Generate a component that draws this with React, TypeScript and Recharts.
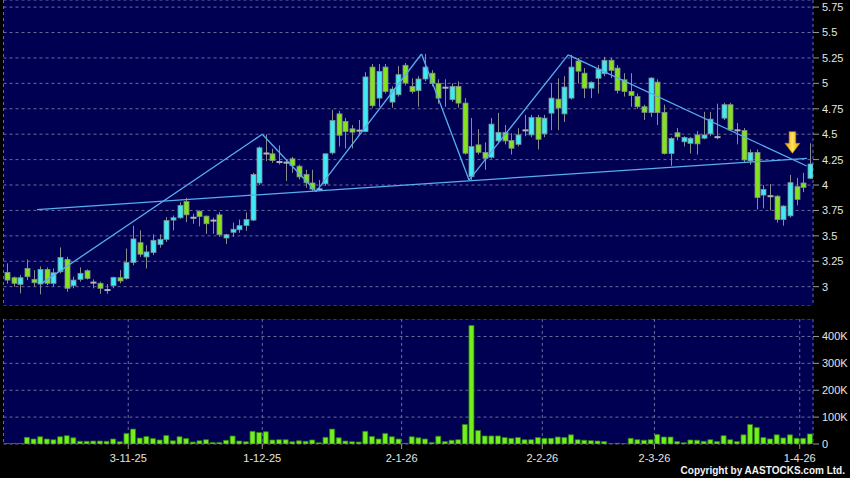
import { ComposedChart, Bar, XAxis, YAxis, CartesianGrid, ReferenceLine, ReferenceDot } from 'recharts'

// daily candles, oldest first
const openP = [
  3.14, 3.088, 3.023, 3.18, 3.072, 3.026, 3.17, 3.033, 3.147, 3.268,
  3.01, 3.072, 3.157, 3.04, 3.033, 2.967, 3.01, 3.088, 3.08, 3.238,
  3.433, 3.293, 3.336, 3.414, 3.466, 3.655, 3.678, 3.837, 3.678, 3.743,
  3.694, 3.65, 3.707, 3.479, 3.535, 3.56, 3.602, 3.655, 4.02, 4.31,
  4.307, 4.227, 4.22, 4.258, 4.185, 4.104, 4.02, 3.956, 4.012, 4.316,
  4.7, 4.625, 4.553, 4.53, 4.526, 5.16, 4.855, 5.16, 4.816, 4.888,
  5.178, 4.97, 4.928, 5.043, 5.1, 5.0, 4.955, 4.84, 4.97, 4.806,
  4.082, 4.395, 4.32, 4.273, 4.434, 4.516, 4.437, 4.4, 4.535, 4.493,
  4.664, 4.503, 4.707, 4.845, 4.7, 4.855, 5.22, 5.1, 4.953, 5.05,
  5.095, 5.227, 5.15, 5.035, 4.92, 4.87, 4.77, 4.712, 5.012, 4.715,
  4.31, 4.514, 4.425, 4.41, 4.493, 4.46, 4.503, 4.47, 4.658, 4.79,
  4.54, 4.536, 4.237, 4.32, 3.901, 3.89, 3.89, 3.66, 3.697, 3.984,
  4.02, 4.066,
]
const highP = [
  3.23, 3.1, 3.114, 3.268, 3.163, 3.2, 3.19, 3.18, 3.386, 3.294,
  3.098, 3.19, 3.17, 3.072, 3.049, 3.026, 3.1, 3.163, 3.375, 3.6,
  3.554, 3.407, 3.515, 3.515, 3.684, 3.7, 3.83, 3.873, 3.717, 3.75,
  3.7, 3.678, 3.733, 3.52, 3.63, 3.66, 3.73, 4.12, 4.38, 4.497,
  4.356, 4.389, 4.25, 4.277, 4.2, 4.15, 4.15, 4.05, 4.31, 4.74,
  4.73, 4.66, 4.59, 4.64, 5.11, 5.19, 5.19, 5.19, 4.97, 5.17,
  5.2, 5.05, 5.07, 5.29, 5.13, 5.04, 5.04, 5.0, 5.02, 4.855,
  4.66, 4.55, 4.42, 4.66, 4.71, 4.59, 4.51, 4.56, 4.69, 4.69,
  4.69, 4.69, 5.0, 5.05, 5.07, 5.28, 5.25, 5.15, 5.02, 5.18,
  5.26, 5.25, 5.18, 5.1, 5.1, 4.9, 4.79, 5.06, 5.04, 4.79,
  4.47, 4.56, 4.48, 4.47, 4.53, 4.72, 4.72, 4.8, 4.81, 4.81,
  4.61, 4.56, 4.35, 4.35, 4.0, 4.01, 3.9, 3.8, 4.1, 4.07,
  4.12, 4.41,
]
const lowP = [
  3.03, 3.0, 2.935, 3.065, 3.0, 2.925, 3.016, 3.0, 3.13, 2.95,
  2.984, 3.05, 3.07, 2.984, 2.93, 2.93, 2.984, 3.033, 3.07, 3.21,
  3.293, 3.179, 3.31, 3.384, 3.44, 3.554, 3.668, 3.635, 3.619, 3.593,
  3.52, 3.52, 3.49, 3.42, 3.49, 3.53, 3.55, 3.645, 4.0, 4.235,
  4.218, 4.202, 4.04, 4.12, 4.055, 3.973, 3.94, 3.94, 3.99, 4.3,
  4.38, 4.36, 4.36, 4.49, 4.52, 4.76, 4.77, 4.9, 4.76, 4.87,
  4.98, 4.9, 4.77, 5.02, 4.97, 4.8, 4.77, 4.82, 4.76, 4.3,
  4.05, 4.3, 4.15, 4.26, 4.42, 4.4, 4.3, 4.38, 4.48, 4.47,
  4.35, 4.47, 4.54, 4.54, 4.62, 4.84, 5.0, 4.855, 4.855, 4.9,
  5.07, 5.05, 4.9, 4.87, 4.77, 4.75, 4.64, 4.67, 4.59, 4.3,
  4.19, 4.44, 4.38, 4.31, 4.3, 4.45, 4.48, 4.45, 4.64, 4.53,
  4.4, 4.22, 4.2, 3.76, 3.77, 3.75, 3.63, 3.6, 3.68, 3.8,
  3.93, 4.06,
]
const closeP = [
  3.065, 3.033, 3.088, 3.098, 3.039, 3.17, 3.033, 3.137, 3.288, 2.984,
  3.065, 3.131, 3.082, 3.04, 2.984, 2.967, 3.091, 3.056, 3.238, 3.47,
  3.319, 3.342, 3.456, 3.466, 3.651, 3.678, 3.8, 3.707, 3.678, 3.69,
  3.619, 3.65, 3.511, 3.511, 3.565, 3.6, 3.661, 4.104, 4.366, 4.31,
  4.241, 4.225, 4.22, 4.192, 4.08, 4.022, 3.96, 3.958, 4.307, 4.634,
  4.49, 4.526, 4.52, 4.54, 5.063, 4.78, 5.118, 4.92, 4.944, 5.086,
  5.003, 4.92, 5.043, 5.16, 5.0, 4.855, 4.96, 4.97, 4.806, 4.313,
  4.378, 4.322, 4.263, 4.599, 4.516, 4.434, 4.362, 4.493, 4.54, 4.664,
  4.45, 4.658, 4.855, 4.757, 4.964, 5.16, 5.12, 4.953, 5.01, 5.14,
  5.227, 5.128, 4.93, 4.92, 4.88, 4.77, 4.715, 5.052, 4.712, 4.31,
  4.458, 4.474, 4.468, 4.46, 4.405, 4.493, 4.648, 4.472, 4.79, 4.543,
  4.536, 4.247, 4.32, 3.878, 3.957, 3.89, 3.66, 3.793, 4.023, 3.859,
  3.977, 4.207,
]
const volumes = [
  2000, 2000, 2000, 24700, 18500, 27000, 18500, 16000, 27000, 31000,
  23000, 10000, 10000, 11000, 11000, 10000, 18500, 8600, 39500, 55500,
  22000, 28000, 20000, 15000, 32000, 12000, 27000, 20000, 7400, 12000,
  16000, 6000, 6000, 13600, 29600, 11000, 8600, 47000, 43000, 45700,
  15000, 16000, 16000, 8600, 12000, 10000, 15000, 5000, 24700, 55500,
  23000, 11000, 8600, 7400, 47000, 28000, 18500, 39500, 27000, 18500,
  2500, 27000, 23000, 18700, 6000, 29000, 9000, 14000, 16000, 72500,
  441000, 50000, 30000, 30000, 30000, 24000, 21000, 24000, 16000, 16000,
  24000, 21000, 21000, 26000, 24000, 34000, 16000, 14000, 12500, 11000,
  9000, 1000, 2500, 1000, 21000, 16000, 14000, 16000, 35000, 26000,
  26000, 9000, 5000, 15000, 14000, 10000, 16000, 9000, 31000, 16000,
  9000, 34000, 72500, 61000, 24000, 19000, 34000, 22500, 34000, 21000,
  21000, 37500,
]

// date ticks (positions in candle index units)
const tickPos = [19.3, 39.5, 60.5, 81.7, 98.6, 120.5]
const tickLabels = ['3-11-25', '1-12-25', '2-1-26', '2-2-26', '2-3-26', '1-4-26']
const priceTicks = [3, 3.25, 3.5, 3.75, 4, 4.25, 4.5, 4.75, 5, 5.25, 5.5, 5.75]
const volumeTicks = [0, 100000, 200000, 300000, 400000]

// drawn trend lines: [candle index, price]
const zigzag = [[6.3, 3.035], [39.5, 4.499], [47.6, 3.936], [63.5, 5.289], [70.66, 4.049], [85.6, 5.28], [121.55, 4.187]]
const neckline = [[5.55, 3.759], [121.6, 4.263]]
const arrowAt = [119.4, 4.41]

const rows = openP.map((o, i) => ({
  n: i + 1,
  o,
  h: highP[i],
  l: lowP[i],
  c: closeP[i],
  v: volumes[i],
}))

const NAVY = '#000052'
const GRID = '#6c6c98'
const CYAN = '#3feaf4'
const GREEN = '#84e21e'
const LINE = '#56aef0'
const FONT = '"Liberation Sans", Arial, sans-serif'
const TEXT = '#e4e4e4'

const Candle = (props: any) => {
  const { x, y, width, height, payload } = props
  if (x == null || y == null || !payload) return null
  const top = Math.min(y, y + height)
  const span = Math.abs(height)
  const range = payload.h - payload.l
  const toY = (v: number) => (range > 0 ? top + ((payload.h - v) / range) * span : top)
  const cx = Math.round(x + width / 2) + 0.5
  const yo = toY(payload.o)
  const yc = toY(payload.c)
  const doji = Math.abs(payload.o - payload.c) < 0.012
  if (doji) {
    const ym = (yo + yc) / 2
    return (
      <g>
        <line x1={cx} x2={cx} y1={top} y2={top + span} stroke="#8c8c8c" />
        <rect x={cx - 3} y={ym - 1} width={6} height={2} fill="#b4b4b4" />
      </g>
    )
  }
  return (
    <g>
      <line x1={cx} x2={cx} y1={top} y2={top + span} stroke="#8c8c8c" />
      <rect
        x={cx - 2.5}
        y={Math.min(yo, yc)}
        width={5}
        height={Math.max(Math.abs(yc - yo), 1)}
        fill={payload.c > payload.o ? CYAN : GREEN}
        stroke="#7f8f8f"
        strokeWidth={0.8}
      />
    </g>
  )
}

const Arrow = ({ cx, cy }: any) => {
  if (cx == null || cy == null) return null
  const d = `M${cx - 3.3},${cy - 11.6} L${cx + 3.3},${cy - 11.6} L${cx + 3.3},${cy} L${cx + 7.5},${cy} L${cx},${cy + 10} L${cx - 7.5},${cy} L${cx - 3.3},${cy} Z`
  return (
    <g>
      <defs>
        <linearGradient id="goldArrow" x1="0" y1="0" x2="1" y2="0">
          <stop offset="0%" stopColor="#e89a00" />
          <stop offset="50%" stopColor="#ffe35c" />
          <stop offset="100%" stopColor="#e89a00" />
        </linearGradient>
      </defs>
      <path d={d} fill="url(#goldArrow)" stroke="#c98600" strokeWidth={0.6} />
    </g>
  )
}

const axisTick = { fill: TEXT, fontSize: 11, fontFamily: FONT }

export default function App() {
  return (
    <div style={{ position: 'absolute', left: 0, top: 0, width: 850, height: 478, background: '#000', overflow: 'hidden', fontFamily: FONT }}>
      <div style={{ position: 'absolute', left: 0, top: 0 }}>
        <ComposedChart width={850} height={306} data={rows} margin={{ top: 0, right: 0, bottom: 0, left: 3.5 }}>
          <CartesianGrid fill={NAVY} stroke={GRID} strokeDasharray="3 3" />
          <XAxis type="number" dataKey="n" domain={[0.5, 122.5]} ticks={tickPos} allowDataOverflow height={0} tick={false} tickLine={false} axisLine={false} />
          <YAxis
            orientation="right"
            width={37}
            type="number"
            domain={[2.81, 5.82]}
            allowDataOverflow
            ticks={priceTicks}
            interval={0}
            tickFormatter={(v: number) => String(v)}
            tick={axisTick}
            tickLine={{ stroke: '#9a9a9a' }}
            tickSize={6}
            tickMargin={3}
            axisLine={false}
          />
          <Bar dataKey={(d: any) => [d.l, d.h]} shape={<Candle />} barSize={5} isAnimationActive={false} />
          <ReferenceLine
            segment={[{ x: neckline[0][0], y: neckline[0][1] }, { x: neckline[1][0], y: neckline[1][1] }]}
            stroke={LINE}
            strokeWidth={1.3}
          />
          {zigzag.slice(1).map((p, i) => (
            <ReferenceLine
              key={`zz-${i}`}
              segment={[{ x: zigzag[i][0], y: zigzag[i][1] }, { x: p[0], y: p[1] }]}
              stroke={LINE}
              strokeWidth={1.3}
            />
          ))}
          <ReferenceDot x={arrowAt[0]} y={arrowAt[1]} r={0} shape={(p: any) => <Arrow cx={p.cx} cy={p.cy} />} />
        </ComposedChart>
      </div>
      <div style={{ position: 'absolute', left: 0, top: 319 }}>
        <ComposedChart width={850} height={159} data={rows} margin={{ top: 0, right: 0, bottom: 0, left: 3.5 }}>
          <CartesianGrid fill={NAVY} stroke={GRID} strokeDasharray="3 3" />
          <XAxis
            type="number"
            dataKey="n"
            domain={[0.5, 122.5]}
            allowDataOverflow
            ticks={tickPos}
            interval={0}
            height={34}
            tickFormatter={(v: number) => tickLabels[tickPos.indexOf(v)] ?? ''}
            tick={axisTick}
            tickLine={{ stroke: '#9a9a9a' }}
            tickSize={5}
            tickMargin={5}
            axisLine={false}
          />
          <YAxis
            orientation="right"
            width={37}
            type="number"
            domain={[0, 465000]}
            allowDataOverflow
            ticks={volumeTicks}
            interval={0}
            tickFormatter={(v: number) => (v === 0 ? '0' : `${v / 1000}K`)}
            tick={axisTick}
            tickLine={{ stroke: '#9a9a9a' }}
            tickSize={6}
            tickMargin={3}
            axisLine={false}
          />
          <Bar dataKey="v" fill="#72f01e" stroke="#2f7d0c" strokeWidth={0.8} barSize={5} isAnimationActive={false} />
        </ComposedChart>
      </div>
      <div style={{ position: 'absolute', right: 5, top: 465, color: '#f2f2f2', fontSize: 10, fontWeight: 'bold', letterSpacing: 0, fontFamily: FONT }}>
        Copyright by AASTOCKS.com Ltd.
      </div>
    </div>
  )
}
